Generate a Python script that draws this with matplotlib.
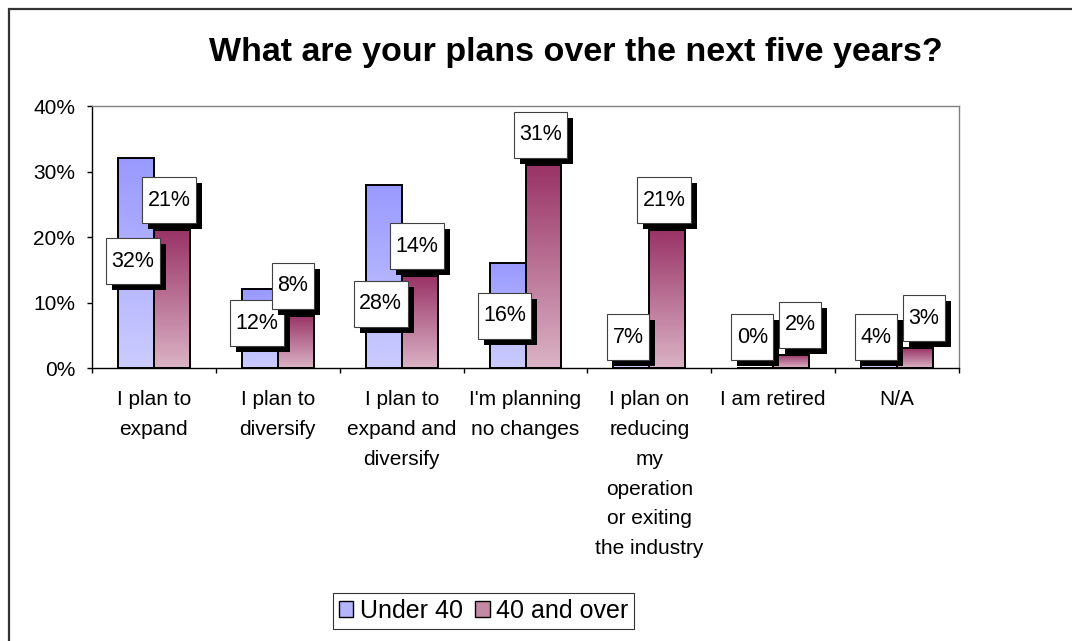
import matplotlib
matplotlib.use("Agg")
import numpy as np
import matplotlib.pyplot as plt
import matplotlib.transforms as mtransforms
from matplotlib.patches import Rectangle
from matplotlib.colors import LinearSegmentedColormap

# survey answers, percent of respondents per age group
categories = ["I plan to\nexpand", "I plan to\ndiversify", "I plan to\nexpand and\ndiversify",
              "I'm planning\nno changes",
              "I plan on\nreducing\nmy\noperation\nor exiting\nthe industry",
              "I am retired", "N/A"]
under_40 = [32, 12, 28, 16, 7, 0, 4]
over_40 = [21, 8, 14, 31, 21, 2, 3]
series_names = ["Under 40", "40 and over"]
y_ticks = [0, 10, 20, 30, 40]
title = "What are your plans over the next five years?"

# where the under-40 value boxes sit (in percent on the y axis)
under40_label_at = [16.3, 6.8, 9.8, 8.0, 4.7, 4.7, 4.7]

plt.rcParams['font.family'] = ['Liberation Sans', 'DejaVu Sans']

W, H = 1072, 641
fig = plt.figure(figsize=(W / 100, H / 100), dpi=100)
ax = fig.add_axes([92 / W, 1 - 368 / H, (959 - 92) / W, (368 - 106) / H])

x = np.arange(len(categories))
bw = 0.29
blue_cmap = LinearSegmentedColormap.from_list("under40", ["#CCCCFF", "#9999FF"])
maroon_cmap = LinearSegmentedColormap.from_list("over40", ["#DBB3C5", "#993366"])


def gradient_bars(xs, vals, cmap):
    bars = ax.bar(xs, vals, bw, facecolor='none', edgecolor='black', linewidth=1.4, zorder=3)
    grad = np.linspace(0, 1, 256).reshape(-1, 1)
    for b in bars:
        h = b.get_height()
        if h <= 0:
            continue
        im = ax.imshow(grad, cmap=cmap, origin='lower', aspect='auto', interpolation='bilinear',
                       extent=[b.get_x(), b.get_x() + b.get_width(), 0, h], zorder=2)
        im.set_clip_path(b)
    return bars


bars1 = gradient_bars(x - bw / 2, under_40, blue_cmap)
bars2 = gradient_bars(x + bw / 2, over_40, maroon_cmap)

ax.set_xlim(-0.5, len(categories) - 0.5)
ax.set_ylim(0, 40)

renderer = fig.canvas.get_renderer()
zo = [6]
BOX_H = 46
SHADOW = 6


def shadow_label(xc, yc, dy, text, avoid=None):
    # white box with a hard black drop shadow, sized in pixels around the text
    tr = mtransforms.ScaledTranslation(xc, yc, ax.transData)
    cx, cy = ax.transData.transform((xc, yc))
    dx = -3
    t = ax.text(dx, dy, text, transform=tr, ha='center', va='center', fontsize=15.5,
                zorder=zo[0] + 2, clip_on=False)
    w = t.get_window_extent(renderer).width + 11
    if avoid is not None:
        # push sideways off a neighbour box that it would mostly hide
        l, r, b, tp = avoid
        bottom = cy + dy - BOX_H / 2
        v_overlap = min(bottom + BOX_H, tp) - max(bottom, b)
        if v_overlap > BOX_H / 2 and cx + dx - w / 2 < r + SHADOW:
            dx = r + SHADOW + w / 2 - cx
            t.set_x(dx)
    ax.add_patch(Rectangle((dx - w / 2 + SHADOW, dy - BOX_H / 2 - SHADOW), w, BOX_H, transform=tr,
                           facecolor='black', edgecolor='none', zorder=zo[0], clip_on=False))
    ax.add_patch(Rectangle((dx - w / 2, dy - BOX_H / 2), w, BOX_H, transform=tr, facecolor='white',
                           edgecolor='#404040', lw=0.8, zorder=zo[0] + 1, clip_on=False))
    zo[0] += 3
    return (cx + dx - w / 2, cx + dx + w / 2, cy + dy - BOX_H / 2, cy + dy + BOX_H / 2)


blue_boxes = []
for b, v, at in zip(bars1, under_40, under40_label_at):
    blue_boxes.append(shadow_label(b.get_x() + b.get_width() / 2, at, 0, f"{v}%"))
for b, v, nb in zip(bars2, over_40, blue_boxes):
    shadow_label(b.get_x() + b.get_width() / 2, v, 30, f"{v}%", avoid=nb)

# axes and ticks
ax.set_yticks(y_ticks)
ax.set_yticklabels([f"{v}%" for v in y_ticks], fontsize=15)
ax.tick_params(axis='y', length=3.6, width=1, pad=8.4, direction='out')
ax.set_xticks(np.arange(-0.5, len(categories), 1))
ax.set_xticklabels([])
ax.set_xticks(x, minor=True)
ax.set_xticklabels(categories, minor=True, fontsize=15, linespacing=1.72)
ax.tick_params(axis='x', which='major', length=3.6, width=1, direction='out')
ax.tick_params(axis='x', which='minor', length=0, pad=16)

for side in ['left', 'bottom']:
    ax.spines[side].set_color('black')
    ax.spines[side].set_linewidth(1)
for side in ['top', 'right']:
    ax.spines[side].set_color('#808080')
    ax.spines[side].set_linewidth(1)

fig.text(576 / W, 1 - 53 / H, title, ha='center', va='center', fontsize=24.5, fontweight='bold')

handles = [Rectangle((0, 0), 1, 1, facecolor='#B5B5FF', edgecolor='black', lw=1),
           Rectangle((0, 0), 1, 1, facecolor='#C28AA4', edgecolor='black', lw=1)]
leg = fig.legend(handles, series_names, loc='center', bbox_to_anchor=(483.5 / W, 1 - 611 / H),
                 ncol=2, frameon=True, fancybox=False, edgecolor='black', fontsize=18,
                 handlelength=0.58, handleheight=0.58, handletextpad=0.25, columnspacing=0.5,
                 borderpad=0.25, borderaxespad=0)
leg.get_frame().set_linewidth(0.8)

# chart area border (runs off the right and bottom edges)
fig.add_artist(Rectangle((8.5 / W, -0.05), 1.1, (1 - 8.5 / H) + 0.05, transform=fig.transFigure,
                         fill=False, edgecolor='#333333', lw=1.6))

fig.savefig('out.png', dpi=100)
